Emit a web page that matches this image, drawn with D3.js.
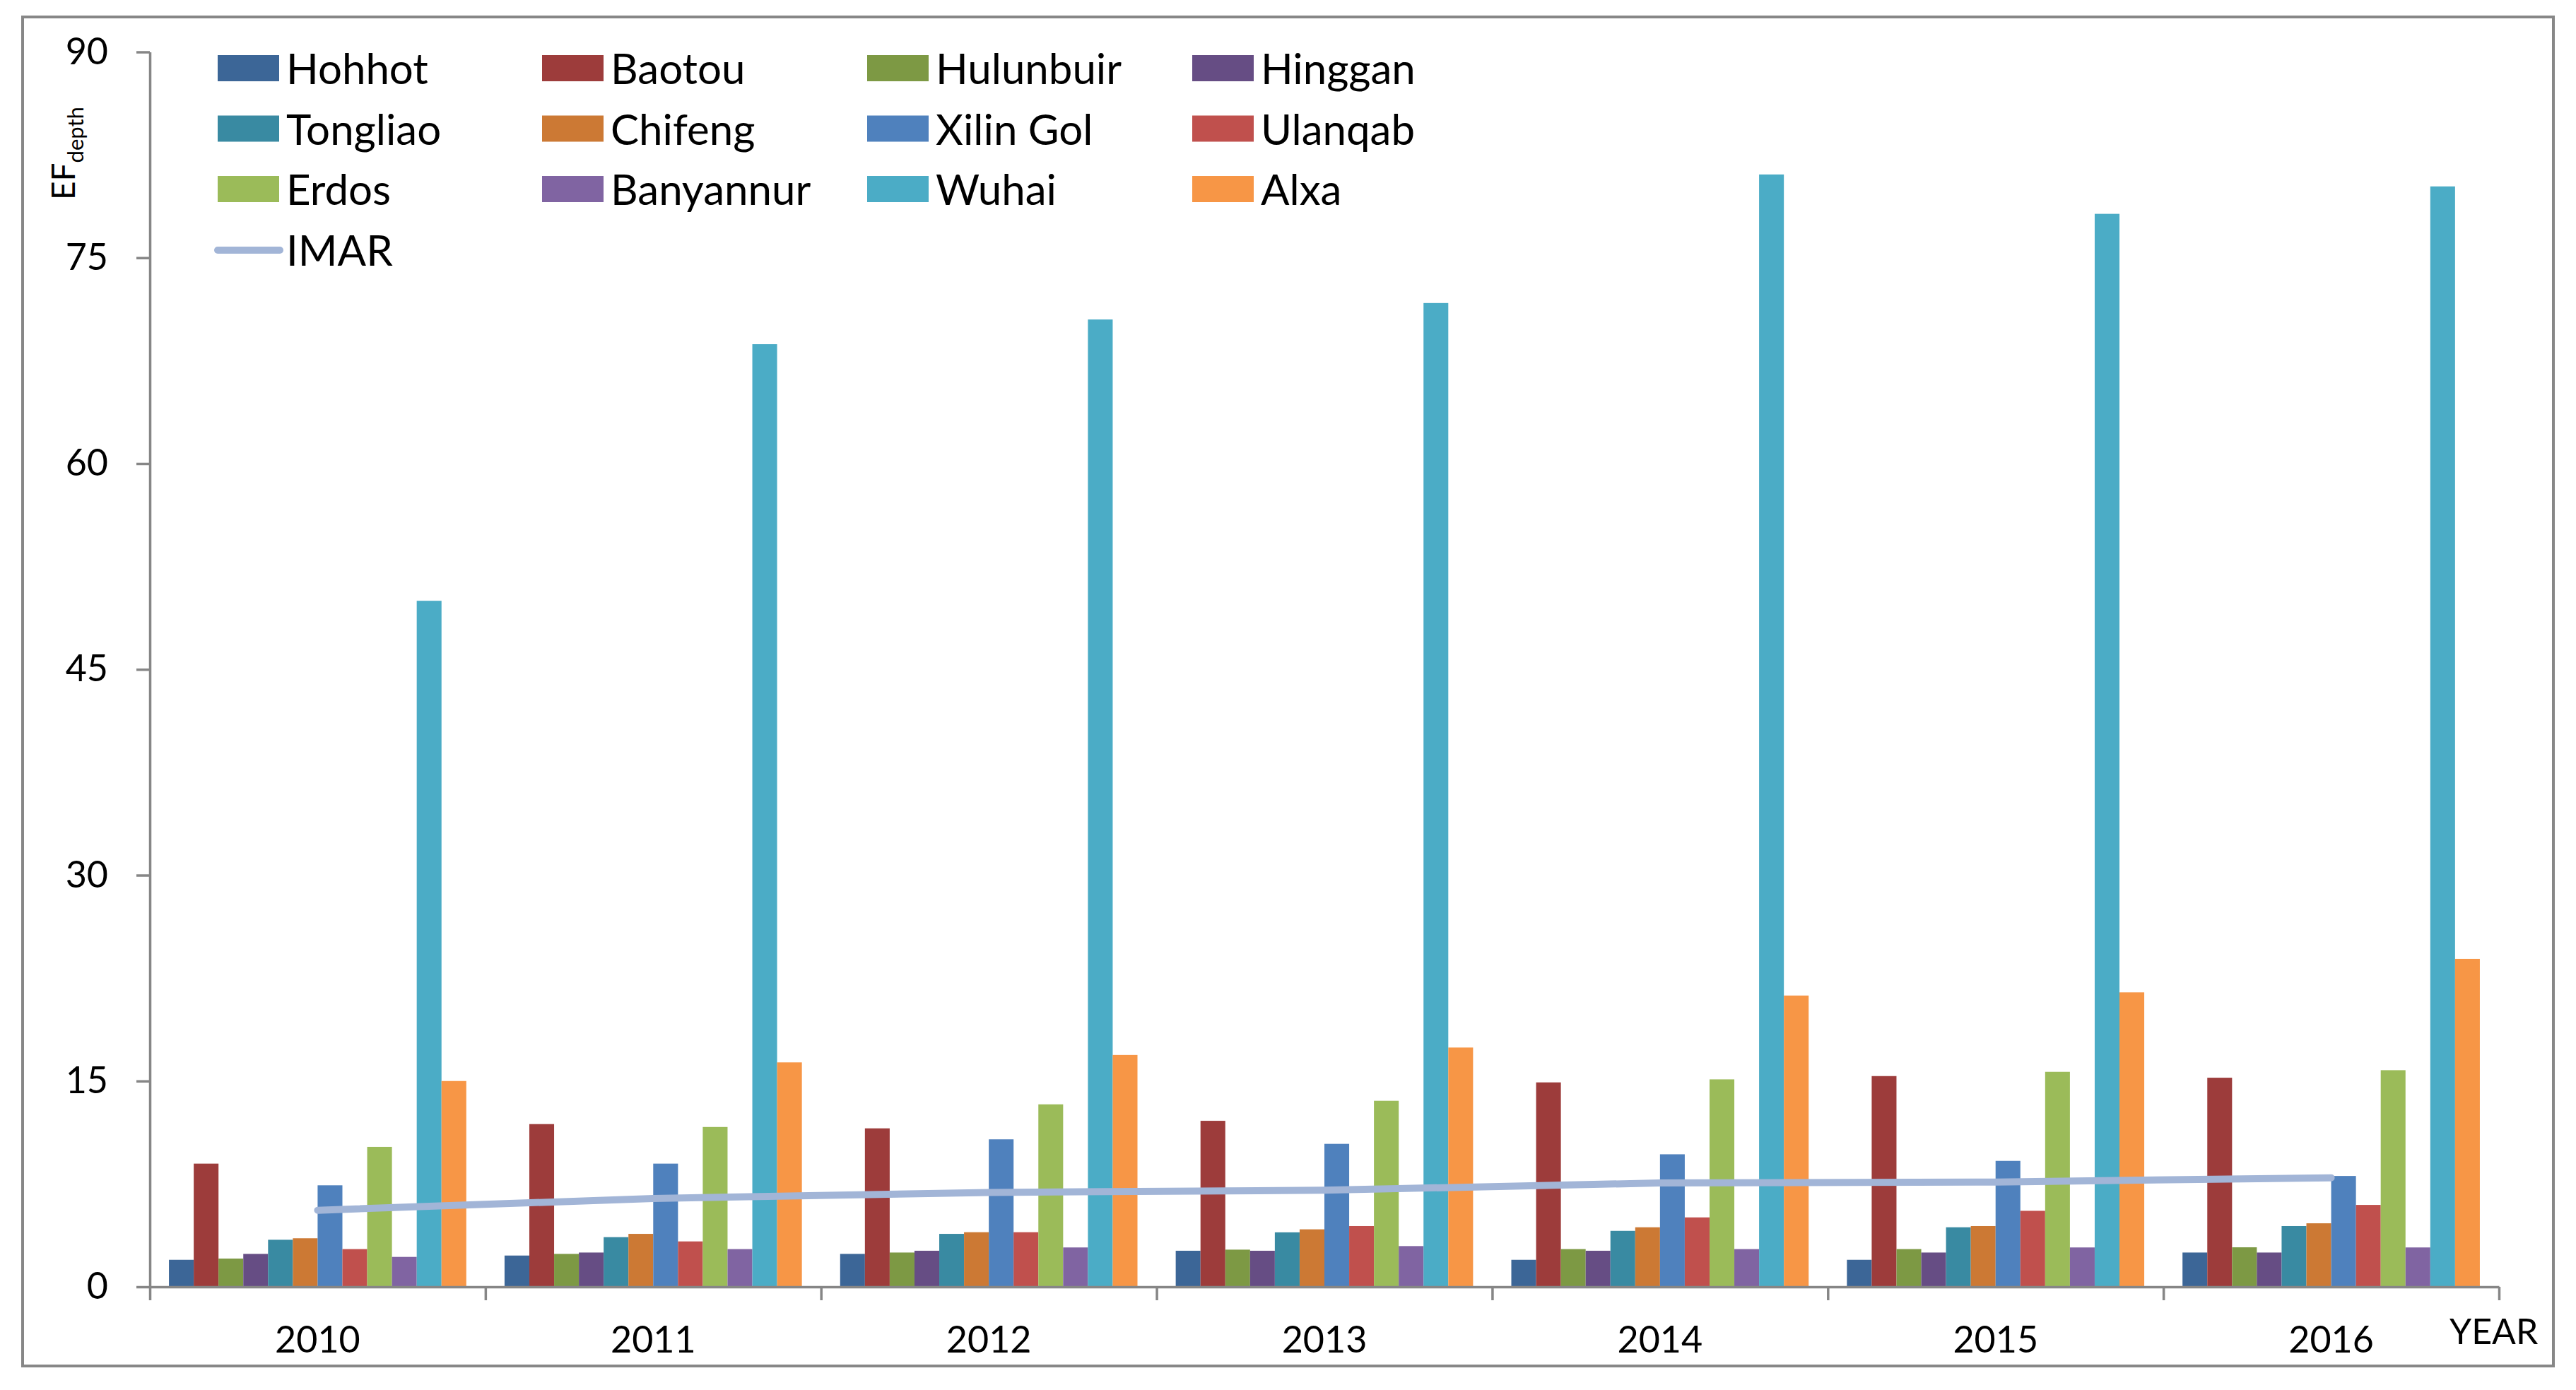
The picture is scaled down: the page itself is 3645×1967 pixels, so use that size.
<!DOCTYPE html>
<html>
<head>
<meta charset="utf-8">
<script src="https://cdn.jsdelivr.net/npm/d3@7"></script>
<style>
    body { margin: 0; background: #fff; }
    svg text { font-family: Lato, "Open Sans", sans-serif; fill: #000; }
</style>
</head>
<body>
<div id="chart"></div>
<script>
// data
const years = ["2010", "2011", "2012", "2013", "2014", "2015", "2016"];
const cities = ["Hohhot", "Baotou", "Hulunbuir", "Hinggan", "Tongliao", "Chifeng",
    "Xilin Gol", "Ulanqab", "Erdos", "Banyannur", "Wuhai", "Alxa"];
const cityColors = ["#3c6697", "#9d3c3b", "#7d9944", "#664d84", "#398aa2", "#cc7934",
    "#4f81bd", "#c0504d", "#9bbb59", "#8064a2", "#4bacc6", "#f79646"];

const hohhot = [1.97, 2.28, 2.40, 2.63, 1.97, 1.97, 2.50];
const baotou = [8.98, 11.86, 11.55, 12.10, 14.90, 15.36, 15.24];
const hulunbuir = [2.06, 2.40, 2.50, 2.71, 2.75, 2.75, 2.88];
const hinggan = [2.40, 2.50, 2.63, 2.63, 2.63, 2.50, 2.50];
const tongliao = [3.43, 3.62, 3.86, 3.97, 4.08, 4.34, 4.43];
const chifeng = [3.54, 3.86, 3.98, 4.19, 4.34, 4.43, 4.63];
const xilinGol = [7.40, 8.98, 10.75, 10.42, 9.66, 9.18, 8.08];
const ulanqab = [2.75, 3.31, 3.98, 4.43, 5.06, 5.54, 5.97];
const erdos = [10.20, 11.65, 13.30, 13.56, 15.12, 15.67, 15.79];
const banyannur = [2.18, 2.75, 2.87, 2.97, 2.75, 2.87, 2.87];
const wuhai = [50.00, 68.70, 70.50, 71.70, 81.07, 78.20, 80.20];
const alxa = [15.00, 16.36, 16.90, 17.44, 21.23, 21.46, 23.90];
const imar = [5.58, 6.44, 6.88, 7.04, 7.57, 7.64, 7.95];

const yTicks = [0, 15, 30, 45, 60, 75, 90];

var Chart = (() => {

    let svg = {
            width: 3645,
            height: 1967,
            margin: { top: 73.5, right: 109, bottom: 146, left: 212 }
        },
        series,
        x0, x1, xEdge, yScale;

    function formatData() {
        const cols = [hohhot, baotou, hulunbuir, hinggan, tongliao, chifeng,
            xilinGol, ulanqab, erdos, banyannur, wuhai, alxa];
        series = years.map((yr, i) => ({
            year: yr,
            values: cities.map((c, j) => ({ city: c, value: cols[j][i] }))
        }));
    }

    function scaleData() {
        const left = svg.margin.left,
            right = svg.width - svg.margin.right,
            bottom = svg.height - svg.margin.bottom;

        x0 = d3.scaleBand().domain(years).range([left, right])
            .paddingInner(0.114).paddingOuter(0.057);
        x1 = d3.scaleBand().domain(cities).range([0, x0.bandwidth()]);
        xEdge = d3.scaleLinear().domain([0, years.length]).range([left, right]);
        yScale = d3.scaleLinear().domain([0, 90]).range([bottom, svg.margin.top]);
    }

    function plotData() {
        const chart = d3.select("#chart").append("svg")
            .attr("width", svg.width)
            .attr("height", svg.height);

        // outer frame
        chart.append("rect")
            .attr("x", 32).attr("y", 24)
            .attr("width", 3581).attr("height", 1909)
            .attr("fill", "none")
            .attr("stroke", "#878787")
            .attr("stroke-width", 4);

        const color = d3.scaleOrdinal().domain(cities).range(cityColors);

        // bars
        chart.append("g").attr("class", "marks")
            .selectAll("g.year")
            .data(series)
            .join("g")
            .attr("class", "year")
            .attr("transform", d => `translate(${x0(d.year)},0)`)
            .selectAll("rect")
            .data(d => d.values)
            .join("rect")
            .attr("x", d => x1(d.city))
            .attr("width", x1.bandwidth())
            .attr("y", d => yScale(d.value))
            .attr("height", d => yScale(0) - yScale(d.value))
            .attr("fill", d => color(d.city));

        // IMAR line
        const line = d3.line()
            .x((d, i) => x0(years[i]) + x0.bandwidth() / 2)
            .y(d => yScale(d));

        chart.append("path")
            .datum(imar)
            .attr("d", line)
            .attr("fill", "none")
            .attr("stroke", "#a2b5d7")
            .attr("stroke-width", 10)
            .attr("stroke-linecap", "round")
            .attr("stroke-linejoin", "round");

        // y axis
        const yAxis = d3.axisLeft(yScale).tickValues(yTicks).tickSize(19).tickSizeOuter(0).tickPadding(40);
        const gy = chart.append("g")
            .attr("class", "axis y")
            .attr("transform", `translate(${svg.margin.left},0)`)
            .call(yAxis);
        gy.selectAll("text").style("font-size", "52px").attr("fill", "#000");

        // x axis: boundary ticks and year labels
        chart.append("g")
            .attr("class", "axis x")
            .attr("transform", `translate(0,${yScale(0)})`)
            .call(d3.axisBottom(xEdge).tickValues(d3.range(years.length + 1))
                .tickFormat("").tickSize(19).tickSizeOuter(0));

        const gx = chart.append("g")
            .attr("class", "axis xlabels")
            .attr("transform", `translate(0,${yScale(0)})`)
            .call(d3.axisBottom(x0).tickSize(0).tickPadding(56));
        gx.select(".domain").remove();
        gx.selectAll("text").style("font-size", "52px").attr("fill", "#000");

        chart.selectAll(".axis path.domain, .axis line")
            .attr("stroke", "#868686")
            .attr("stroke-width", 3.5);

        chart.append("text")
            .attr("x", 3466).attr("y", 1902)
            .style("font-size", "50px")
            .text("YEAR");

        // y title EF with subscript
        const yt = chart.append("text")
            .attr("transform", "translate(106,283) rotate(-90)")
            .style("font-size", "46px");
        yt.append("tspan").text("EF");
        yt.append("tspan").attr("dy", 12).style("font-size", "31px").text("depth");

        // legend
        const colX = [308, 767, 1227, 1687],
            rowY = [117, 202.5, 288, 374];

        const legend = chart.append("g").attr("class", "legend");
        cities.forEach((c, i) => {
            const gx = colX[i % 4], gy = rowY[Math.floor(i / 4)];
            legend.append("rect")
                .attr("x", gx).attr("y", gy - 39)
                .attr("width", 87).attr("height", 37)
                .attr("fill", color(c));
            legend.append("text")
                .attr("x", gx + 97).attr("y", gy + 2)
                .style("font-size", "60px")
                .text(c);
        });
        legend.append("line")
            .attr("x1", 308).attr("x2", 396)
            .attr("y1", rowY[3] - 20).attr("y2", rowY[3] - 20)
            .attr("stroke", "#a2b5d7")
            .attr("stroke-width", 10)
            .attr("stroke-linecap", "round");
        legend.append("text")
            .attr("x", 405).attr("y", rowY[3] + 2)
            .style("font-size", "60px")
            .text("IMAR");
    }

    return { svg, formatData, scaleData, plotData };

})();

Chart.formatData();
Chart.scaleData();
Chart.plotData();
</script>
</body>
</html>
